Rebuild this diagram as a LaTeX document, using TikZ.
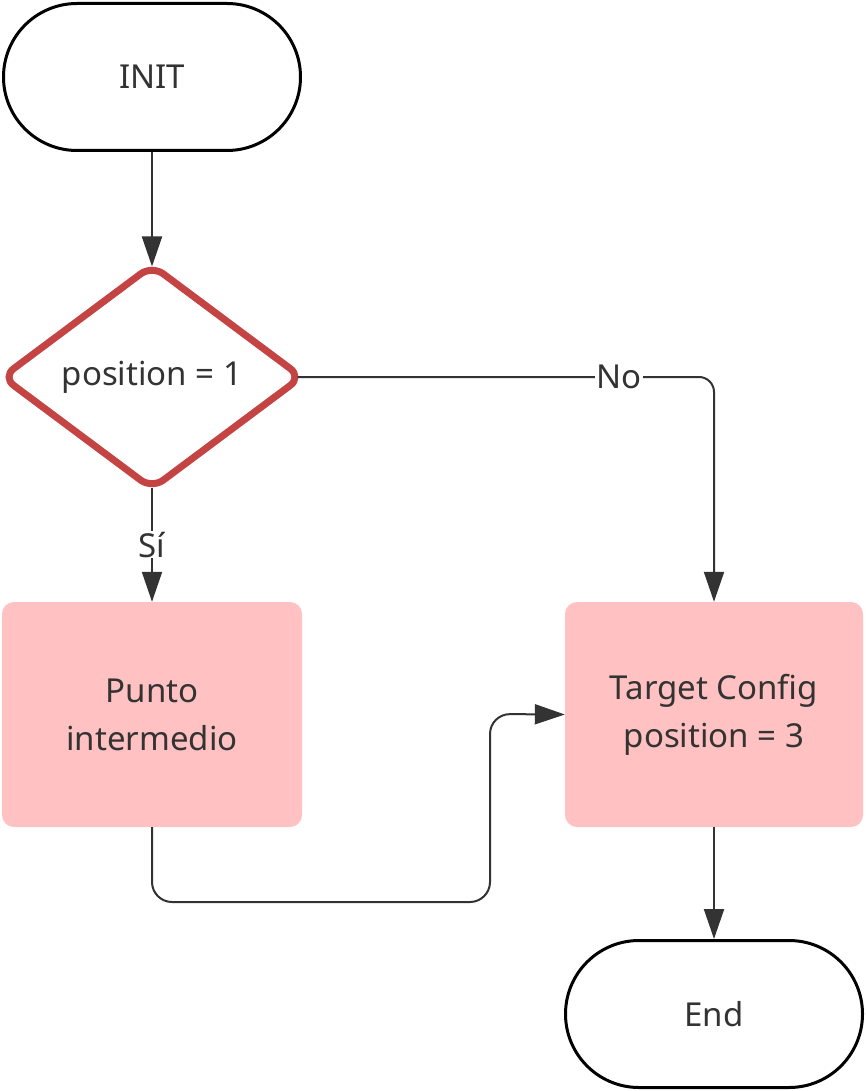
\documentclass[tikz,border=0pt]{standalone}
\usepackage{fontspec}
\setmainfont{Noto Sans}
\usetikzlibrary{arrows.meta,shapes.geometric,shapes.misc}
\definecolor{txt}{HTML}{333333}
\definecolor{redline}{HTML}{C44444}
\definecolor{pinkfill}{HTML}{FFC1C1}
\tikzset{
  term/.style={rounded rectangle, draw=black, line width=3pt, minimum width=297pt, minimum height=147pt, inner sep=0pt, text=txt, font=\fontsize{33}{40}\selectfont},
  decis/.style={diamond, draw=redline, line width=7pt, rounded corners=14pt, minimum width=302pt, minimum height=226pt, inner sep=0pt, text=txt, font=\fontsize{33}{40}\selectfont},
  procbox/.style={rectangle, fill=pinkfill, rounded corners=12pt, minimum width=300pt, minimum height=225pt, inner sep=0pt, text=txt, align=center, font=\fontsize{33}{48}\selectfont},
  conn/.style={draw=txt, line width=2pt, -{Triangle[length=30pt,width=20pt]}},
  lbl/.style={fill=white, text=txt, inner sep=1pt, font=\fontsize{33}{40}\selectfont}
}
\begin{document}
\begin{tikzpicture}[x=1pt,y=-1pt]
\useasboundingbox (0,0) rectangle (866,1091);
\node[term] (init) at (152,77) {INIT};
\node[decis] (dec) at (152,377) {position = 1};
\node[procbox] (punto) at (152,714.5) {Punto\\intermedio};
\node[procbox, minimum width=298pt] (target) at (714,714.5) {Target Config\\position = 3};
\node[term] (end) at (714,1014) {End};
\coordinate (c1) at (714,377);
\coordinate (c2) at (152,902);
\coordinate (c3) at (490,902);
\coordinate (c4) at (490,714);
\draw[conn] (init.south) -- ([yshift=-6pt]dec.north);
\draw[conn] ([yshift=6pt]dec.south) -- node[lbl, pos=0.5] {Sí} (punto.north);
\draw[conn, rounded corners=15pt] ([xshift=-9pt]dec.east) -- (c1) -- (target.north);
\node[lbl] (no) at (619,377) {No};
\draw[conn, rounded corners=20pt] (punto.south) -- (c2) -- (c3) -- (c4) -- (target.west);
\draw[conn] (target.south) -- (end.north);
\end{tikzpicture}
\end{document}
